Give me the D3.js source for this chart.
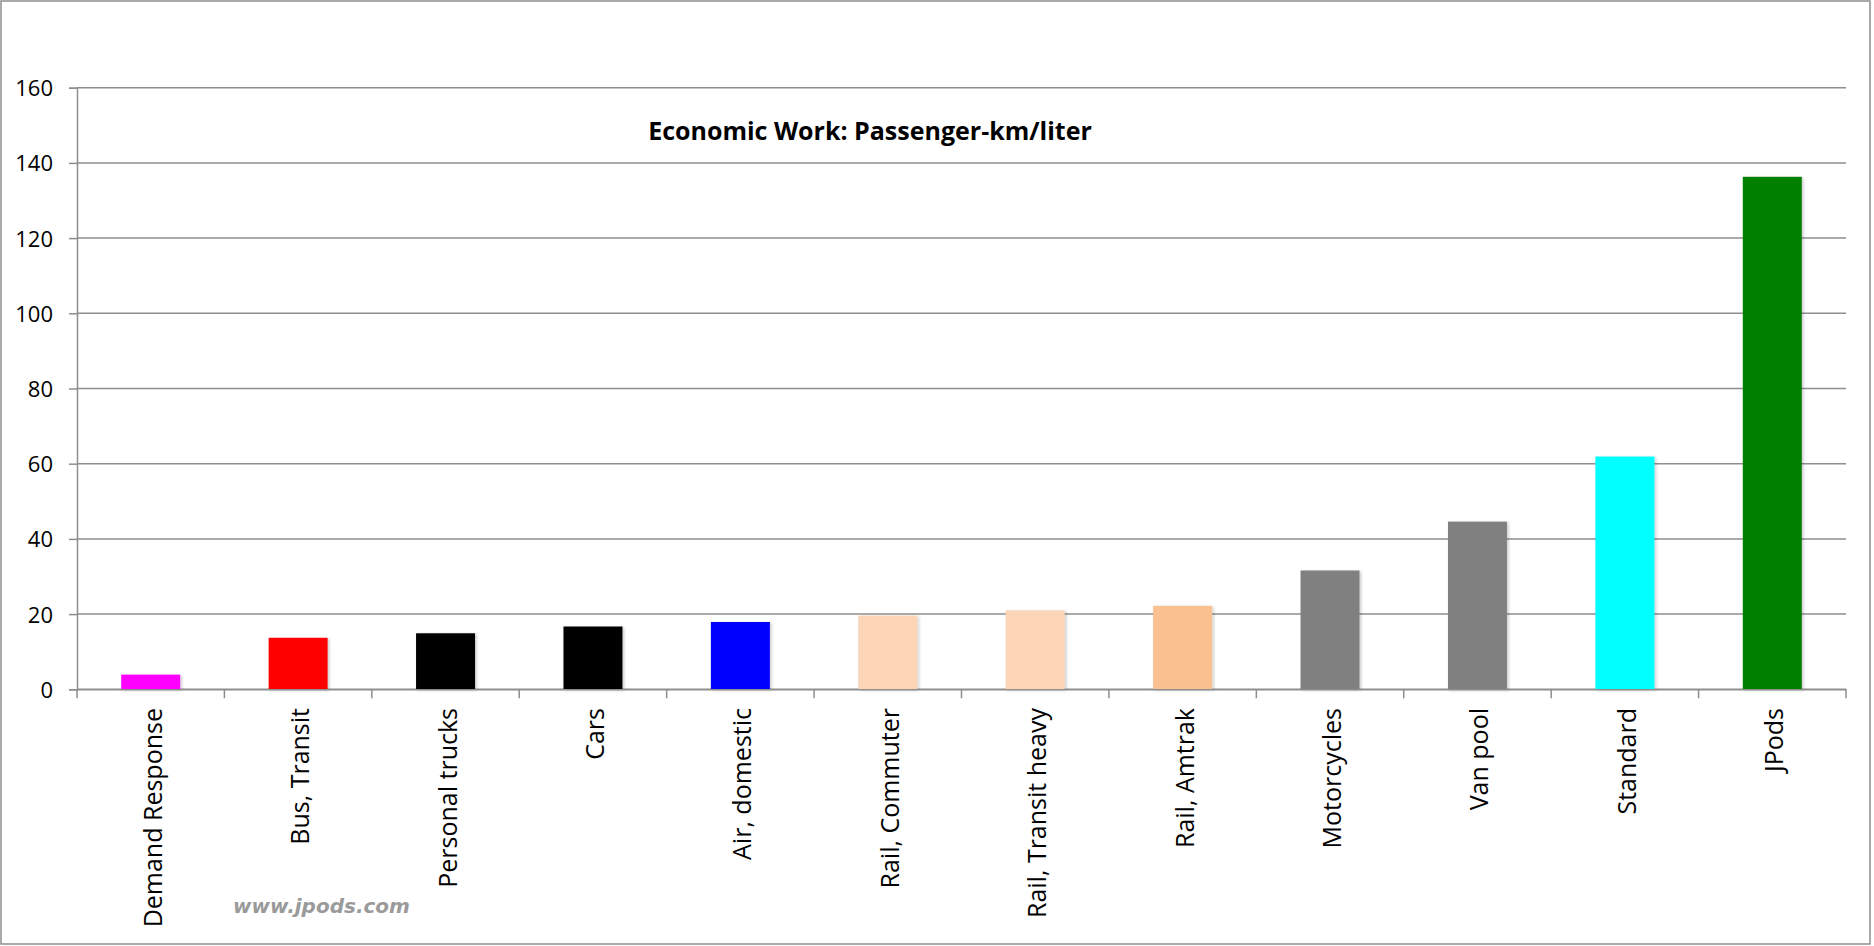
<!DOCTYPE html>
<html><head><meta charset="utf-8">
<script src="https://cdn.jsdelivr.net/npm/d3@7"></script>
<style>
html,body{margin:0;padding:0;background:#fff;}
svg{display:block;}
</style></head>
<body>
<svg id="chart" width="1874" height="946"></svg>
<script>
const categories = ["Demand Response","Bus, Transit","Personal trucks","Cars","Air, domestic","Rail, Commuter","Rail, Transit heavy","Rail, Amtrak","Motorcycles","Van pool","Standard","JPods"];
const values = [3.9, 13.7, 14.9, 16.7, 17.9, 19.6, 21.0, 22.2, 31.6, 44.6, 61.9, 136.3];
const colors = ["#FF00FF","#FF0000","#000000","#000000","#0000FF","#FBD5B5","#FBD5B5","#FAC090","#808080","#808080","#00FFFF","#008000"];
const yTicks = [0,20,40,60,80,100,120,140,160];
const title = "Economic Work: Passenger-km/liter";
const watermark = "www.jpods.com";

(function(){
const svg = d3.select("#chart");
const mLeft = 77, mRight = 1846, mTop = 87.7, mBottom = 689.3;
const grid = "#8e8e8e";

const defs = svg.append("defs");
const f = defs.append("filter").attr("id","sh").attr("x","-10%").attr("y","-10%").attr("width","130%").attr("height","130%");
f.append("feDropShadow").attr("dx",1.5).attr("dy",1).attr("stdDeviation",1.5).attr("flood-color","#000").attr("flood-opacity",0.22);

svg.append("rect").attr("x",1).attr("y",1).attr("width",1869).attr("height",943)
  .attr("fill","#fff").attr("stroke",grid).attr("stroke-width",1.5);

const x = d3.scaleBand().domain(categories).range([mLeft,mRight]).paddingInner(0).paddingOuter(0);
const y = d3.scaleLinear().domain([0,160]).range([mBottom,mTop]);

// gridlines
svg.append("g").selectAll("line").data(yTicks).join("line")
  .attr("x1",mLeft).attr("x2",mRight).attr("y1",d=>y(d)).attr("y2",d=>y(d))
  .attr("stroke",grid).attr("stroke-width",1.5);

// y axis
const yAxis = svg.append("g").attr("transform",`translate(${mLeft},0)`)
  .call(d3.axisLeft(y).tickValues(yTicks).tickSize(8).tickPadding(16).tickFormat(d3.format("d")));
yAxis.select(".domain").attr("stroke",grid).attr("stroke-width",1.5);
yAxis.selectAll(".tick line").attr("stroke",grid).attr("stroke-width",1.5);
yAxis.selectAll("text").attr("font-family","'Open Sans', sans-serif").attr("font-size",22).attr("fill","#000").attr("dy","0.36em");

// bars
const bw = x.bandwidth();
svg.append("g").selectAll("rect").data(categories).join("rect")
  .attr("x",d=>x(d)+bw*0.3).attr("width",bw*0.4)
  .attr("y",(d,i)=>y(values[i])).attr("height",(d,i)=>y(0)-y(values[i]))
  .attr("fill",(d,i)=>colors[i]).attr("filter","url(#sh)");

// x axis
const xAxis = svg.append("g").attr("transform",`translate(0,${mBottom})`)
  .call(d3.axisBottom(x).tickSize(0).tickFormat(""));
xAxis.select(".domain").attr("stroke",grid).attr("stroke-width",1.5);
xAxis.selectAll(".tick").remove();
const bounds = categories.map(c=>x(c)).concat([mRight]);
svg.append("g").selectAll("line").data(bounds).join("line")
  .attr("x1",d=>d).attr("x2",d=>d).attr("y1",mBottom).attr("y2",mBottom+9)
  .attr("stroke",grid).attr("stroke-width",1.5);

// category labels
svg.append("g").selectAll("text").data(categories).join("text")
  .attr("transform",d=>`translate(${x(d)+bw/2+11},708) rotate(-90)`)
  .attr("text-anchor","end")
  .attr("font-family","'Open Sans', sans-serif").attr("font-size",25).attr("fill","#000")
  .text(d=>d);

// title
svg.append("text").attr("x",870).attr("y",140).attr("text-anchor","middle")
  .attr("font-family","'Open Sans', sans-serif").attr("font-weight","bold").attr("font-size",25)
  .attr("fill","#000").text(title);

// watermark
svg.append("text").attr("x",233).attr("y",913)
  .attr("font-family","'DejaVu Sans', sans-serif").attr("font-style","italic").attr("font-weight","bold")
  .attr("font-size",20).attr("fill","#9a9a9a").text(watermark);
})();
</script>
</body></html>
